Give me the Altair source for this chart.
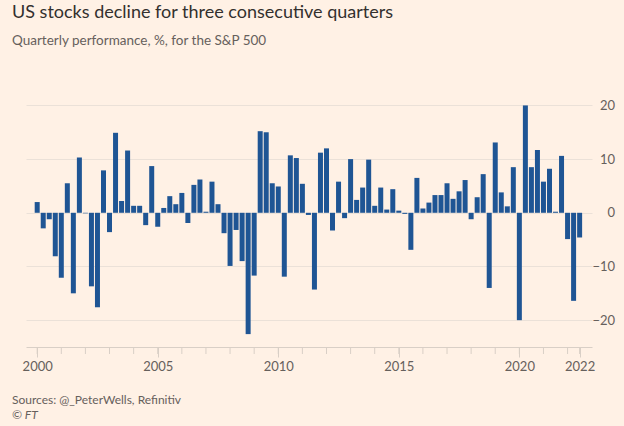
import altair as alt
import pandas as pd

years = [y for y in range(2000, 2023) for _ in range(4)][:91]
quarters = [1, 2, 3, 4] * 22 + [1, 2, 3]
values = [
    2.0, -2.9, -1.2, -8.1,
    -12.1, 5.5, -15.0, 10.3,
    -0.1, -13.7, -17.6, 7.9,
    -3.6, 14.9, 2.2, 11.6,
    1.3, 1.3, -2.3, 8.7,
    -2.6, 0.9, 3.1, 1.6,
    3.7, -1.9, 5.2, 6.2,
    0.2, 5.8, 1.6, -3.8,
    -9.9, -3.2, -9.0, -22.6,
    -11.7, 15.2, 15.0, 5.5,
    4.9, -11.9, 10.7, 10.2,
    5.4, -0.4, -14.3, 11.2,
    12.0, -3.3, 5.8, -1.0,
    10.0, 2.4, 4.7, 9.9,
    1.3, 4.7, 0.6, 4.4,
    0.4, -0.2, -6.9, 6.5,
    0.8, 1.9, 3.3, 3.3,
    5.5, 2.6, 4.0, 6.1,
    -1.2, 2.9, 7.2, -14.0,
    13.1, 3.8, 1.2, 8.5,
    -20.0, 20.0, 8.5, 11.7,
    5.8, 8.2, 0.2, 10.6,
    -4.9, -16.4, -4.6,
]
tick_years = list(range(2000, 2023)) + [2022.5]
label_ticks = [2000, 2005, 2010, 2015, 2020, 2022.5]
y_ticks = [-20, -10, 0, 10, 20]
footer_lines = ["Sources: @_PeterWells, Refinitiv"]
copyright_line = ["© FT"]

df = pd.DataFrame({
    "t": [y + (q - 1) * 0.25 for y, q in zip(years, quarters)],
    "v": values,
})
ticks_df = pd.DataFrame({"yr": tick_years})

W, H = 566, 255
FONT = "Lato"
GRAY = "#66605c"
LINE = "#d9cfc6"

xscale = alt.Scale(domain=[1999.743, 2022.806], nice=False, zero=False)
yscale = alt.Scale(domain=[-25, 22.5], nice=False, zero=False)

bars = alt.Chart(df).mark_bar(size=5, color="#1f5594").encode(
    x=alt.X("t:Q", scale=xscale, title=None,
            axis=alt.Axis(values=label_ticks, tickSize=10, tickColor=LINE,
                          domainColor=LINE, labelColor=GRAY, labelFontSize=13,
                          labelFont=FONT, labelPadding=3, grid=False,
                          labelExpr="datum.value > 2022 ? '2022' : format(datum.value, 'd')")),
    y=alt.Y("v:Q", scale=yscale, title=None,
            axis=alt.Axis(orient="right", values=y_ticks, tickSize=0, domain=False,
                          labelAlign="right", labelPadding=22.5, labelColor=GRAY,
                          labelFontSize=13, labelFont=FONT, gridColor="#ebe1d8",
                          labelBaseline="middle")),
)

minor = alt.Chart(ticks_df).mark_rule(color=LINE, strokeWidth=1).encode(
    x=alt.X("yr:Q", scale=xscale),
    y=alt.value(H),
    y2=alt.value(H + 7),
)

src = alt.Chart(pd.DataFrame({"s": footer_lines})).mark_text(
    align="left", baseline="middle", fontSize=12, font=FONT, color=GRAY
).encode(text="s:N", x=alt.value(-14), y=alt.value(308))

cr = alt.Chart(pd.DataFrame({"s": copyright_line})).mark_text(
    align="left", baseline="middle", fontSize=12, font=FONT, color=GRAY, fontStyle="italic"
).encode(text="s:N", x=alt.value(-14), y=alt.value(323))

chart = alt.layer(minor, bars, src, cr).properties(
    width=W, height=H,
    title=alt.TitleParams(
        "US stocks decline for three consecutive quarters",
        subtitle="Quarterly performance, %, for the S&P 500",
        anchor="start", frame="group", dx=-14, offset=45,
        font=FONT, fontSize=18, fontWeight="normal", color="#33302e",
        subtitleFont=FONT, subtitleFontSize=13.5, subtitleColor=GRAY,
        subtitlePadding=12,
    ),
    autosize=alt.AutoSizeParams(type="none"),
    padding={"left": 26, "top": 92, "right": 32, "bottom": 79},
    background="#fff1e5",
).configure_view(stroke=None)

chart.save("out.html", embed_options={"renderer": "svg", "actions": False})
